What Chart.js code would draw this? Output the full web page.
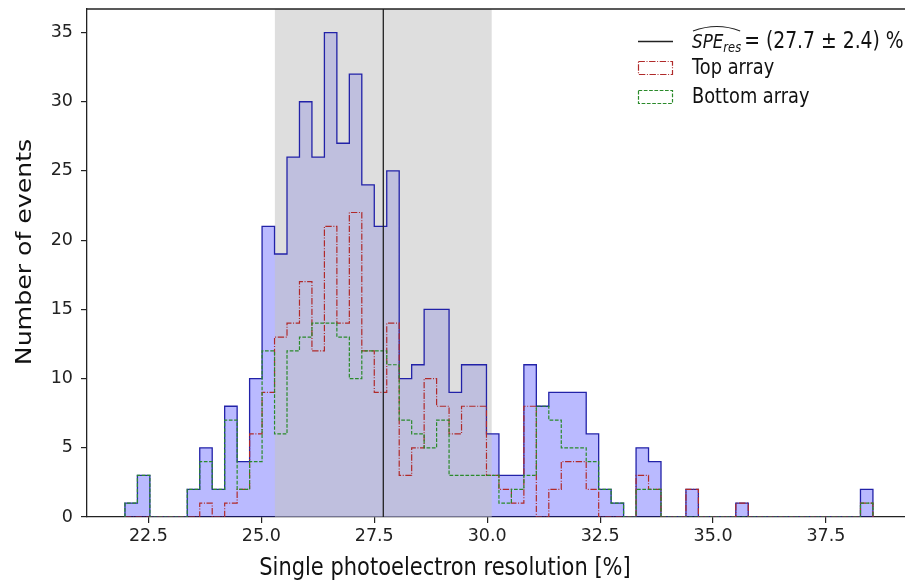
<!DOCTYPE html>
<html>
<head>
<meta charset="utf-8">
<script src="https://cdn.jsdelivr.net/npm/chart.js@4"></script>
<style>
  html, body { margin: 0; padding: 0; background: #fff; }
  canvas { display: block; }
</style>
</head>
<body>
<canvas id="speChart" width="905" height="583"></canvas>
<script>
// histogram binning (60 bins)
const binStart = 21.98;
const binWidth = 0.276;

// counts per bin
const totalCounts = [
  1, 3, 0, 0, 0, 2, 5, 2, 8, 4,
  10, 21, 19, 26, 30, 26, 35, 27, 32, 24,
  21, 25, 10, 11, 15, 15, 9, 11, 11, 6,
  3, 3, 11, 8, 9, 9, 9, 6, 2, 1,
  0, 5, 4, 0, 0, 2, 0, 0, 0, 1,
  0, 0, 0, 0, 0, 0, 0, 0, 0, 2
];
const topCounts = [
  0, 0, 0, 0, 0, 0, 1, 0, 1, 2,
  6, 9, 13, 14, 17, 12, 21, 14, 22, 12,
  9, 14, 3, 5, 10, 8, 6, 8, 8, 3,
  2, 1, 8, 0, 2, 4, 4, 2, 0, 0,
  0, 3, 2, 0, 0, 2, 0, 0, 0, 1,
  0, 0, 0, 0, 0, 0, 0, 0, 0, 1
];
const bottomCounts = [
  1, 3, 0, 0, 0, 2, 4, 2, 7, 2,
  4, 12, 6, 12, 13, 14, 14, 13, 10, 12,
  12, 11, 7, 6, 5, 7, 3, 3, 3, 3,
  1, 2, 3, 8, 7, 5, 5, 4, 2, 1,
  0, 2, 2, 0, 0, 0, 0, 0, 0, 0,
  0, 0, 0, 0, 0, 0, 0, 0, 0, 1
];

const speMean = 27.7;
const speSigma = 2.4;

const xTicks = [22.5, 25.0, 27.5, 30.0, 32.5, 35.0, 37.5];
const yTicks = [0, 5, 10, 15, 20, 25, 30, 35];
const xMin = 21.14, xMax = 39.25;
const yMin = 0, yMax = 36.7;

const xTitle = 'Single photoelectron resolution [%]';
const yTitle = 'Number of events';

const FONT = '"DejaVu Sans", sans-serif';
const STRETCH = 1.2; // the reference figure is a bit taller than wide

// outline of a histogram as step points (bin edges)
function stepPoints(counts) {
  const pts = [{ x: binStart, y: 0 }];
  counts.forEach((c, i) => pts.push({ x: binStart + i * binWidth, y: c }));
  pts.push({ x: binStart + counts.length * binWidth, y: 0 });
  return pts;
}

// text drawn with the same vertical stretch as the reference
function stretchedText(ctx, text, x, y, font, align, vertical) {
  ctx.save();
  ctx.translate(x, y);
  if (vertical) {
    ctx.rotate(-Math.PI / 2);
    ctx.scale(STRETCH, 1);
  } else {
    ctx.scale(1, STRETCH);
  }
  ctx.font = font;
  ctx.textAlign = align;
  ctx.textBaseline = 'alphabetic';
  ctx.fillText(text, 0, 0);
  const w = ctx.measureText(text).width;
  ctx.restore();
  return w;
}

// grey +-1 sigma band, drawn over the blue fill but under the outlines
const bandPlugin = {
  id: 'speBand',
  beforeDatasetDraw(chart, args) {
    if (args.index !== 0) return;
    const { ctx, chartArea, scales } = chart;
    const x0 = scales.x.getPixelForValue(speMean - speSigma);
    const x1 = scales.x.getPixelForValue(speMean + speSigma);
    ctx.save();
    ctx.fillStyle = 'rgba(194,194,194,0.54)';
    ctx.fillRect(x0, chartArea.top, x1 - x0, chartArea.bottom - chartArea.top);
    ctx.restore();
  }
};

// top spine, axis titles and the legend with the hat / subscript label
const legendPlugin = {
  id: 'speLegend',
  afterDraw(chart) {
    const { ctx, chartArea } = chart;
    ctx.save();
    ctx.strokeStyle = '#222';
    ctx.lineWidth = 1.3;
    ctx.beginPath();
    ctx.moveTo(chartArea.left, chartArea.top);
    ctx.lineTo(chartArea.right, chartArea.top);
    ctx.stroke();

    ctx.fillStyle = '#111';
    stretchedText(ctx, xTitle, 445, 575, '21px ' + FONT, 'center', false);
    stretchedText(ctx, yTitle, 31, 252, '21px ' + FONT, 'center', true);

    // row 1: mean line
    ctx.lineWidth = 1.3;
    ctx.beginPath();
    ctx.moveTo(638, 41.5);
    ctx.lineTo(673, 41.5);
    ctx.stroke();

    let x = 692;
    x += stretchedText(ctx, 'SPE', x, 47.5, 'italic 16.8px ' + FONT, 'left', false);
    x += stretchedText(ctx, 'res', x, 51.5, 'italic 11.5px ' + FONT, 'left', false);
    // wide hat
    ctx.lineWidth = 1.1;
    ctx.beginPath();
    ctx.moveTo(693, 31);
    ctx.quadraticCurveTo((693 + x) / 2, 22, x - 1, 31);
    ctx.stroke();
    stretchedText(ctx, '= (' + speMean.toFixed(1) + ' \u00b1 ' + speSigma.toFixed(1) + ') %',
      x + 3, 47.5, '18.8px ' + FONT, 'left', false);

    // row 2: top array
    ctx.lineWidth = 1.2;
    ctx.strokeStyle = '#b02a2a';
    ctx.setLineDash([6.4, 1.6, 1, 1.6]);
    ctx.strokeRect(638.5, 61.5, 34, 13);
    // row 3: bottom array
    ctx.strokeStyle = '#2a8a2a';
    ctx.setLineDash([3.7, 1.6]);
    ctx.strokeRect(638.5, 90.5, 34, 13);
    ctx.setLineDash([]);

    stretchedText(ctx, 'Top array', 692, 73.5, '17.8px ' + FONT, 'left', false);
    stretchedText(ctx, 'Bottom array', 692, 103, '17.8px ' + FONT, 'left', false);
    ctx.restore();
  }
};

const ctx = document.getElementById('speChart').getContext('2d');

new Chart(ctx, {
  type: 'line',
  data: {
    datasets: [
      {
        label: 'All',
        data: stepPoints(totalCounts),
        stepped: true,
        fill: 'origin',
        backgroundColor: 'rgba(0,0,255,0.27)',
        borderColor: '#2222a8',
        borderWidth: 1.3,
        pointRadius: 0,
        order: 3
      },
      {
        label: 'Top array',
        data: stepPoints(topCounts),
        stepped: true,
        fill: false,
        borderColor: '#b02a2a',
        borderWidth: 1.2,
        borderDash: [6.4, 1.6, 1, 1.6],
        pointRadius: 0,
        order: 2
      },
      {
        label: 'Bottom array',
        data: stepPoints(bottomCounts),
        stepped: true,
        fill: false,
        borderColor: '#2a8a2a',
        borderWidth: 1.2,
        borderDash: [3.7, 1.6],
        pointRadius: 0,
        order: 1
      },
      {
        label: 'Mean',
        data: [{ x: speMean, y: yMin }, { x: speMean, y: yMax }],
        fill: false,
        borderColor: '#222',
        borderWidth: 1.3,
        pointRadius: 0,
        order: 0
      }
    ]
  },
  options: {
    responsive: false,
    animation: false,
    layout: { padding: { top: 9, right: 0, left: 0, bottom: 0 } },
    plugins: {
      legend: { display: false },
      tooltip: { enabled: false }
    },
    scales: {
      x: {
        type: 'linear',
        min: xMin,
        max: xMax,
        afterBuildTicks: s => { s.ticks = xTicks.map(v => ({ value: v })); },
        afterFit: s => { s.height = 66; s.paddingLeft = 0; s.paddingRight = 0; },
        grid: { drawOnChartArea: false, drawTicks: true, tickLength: 6, color: '#222', lineWidth: 1.2 },
        border: { color: '#222', width: 1.3 },
        ticks: {
          color: '#222',
          font: { family: FONT, size: 17.5 },
          padding: 3,
          maxRotation: 0,
          autoSkip: false,
          callback: v => v.toFixed(1)
        }
      },
      y: {
        type: 'linear',
        min: yMin,
        max: yMax,
        afterBuildTicks: s => { s.ticks = yTicks.map(v => ({ value: v })); },
        afterFit: s => { s.width = 87; s.paddingTop = 0; s.paddingBottom = 0; },
        grid: { drawOnChartArea: false, drawTicks: true, tickLength: 6, color: '#222', lineWidth: 1.2 },
        border: { color: '#222', width: 1.3 },
        ticks: {
          color: '#222',
          font: { family: FONT, size: 17.5 },
          padding: 8
        }
      }
    }
  },
  plugins: [bandPlugin, legendPlugin]
});
</script>
</body>
</html>
